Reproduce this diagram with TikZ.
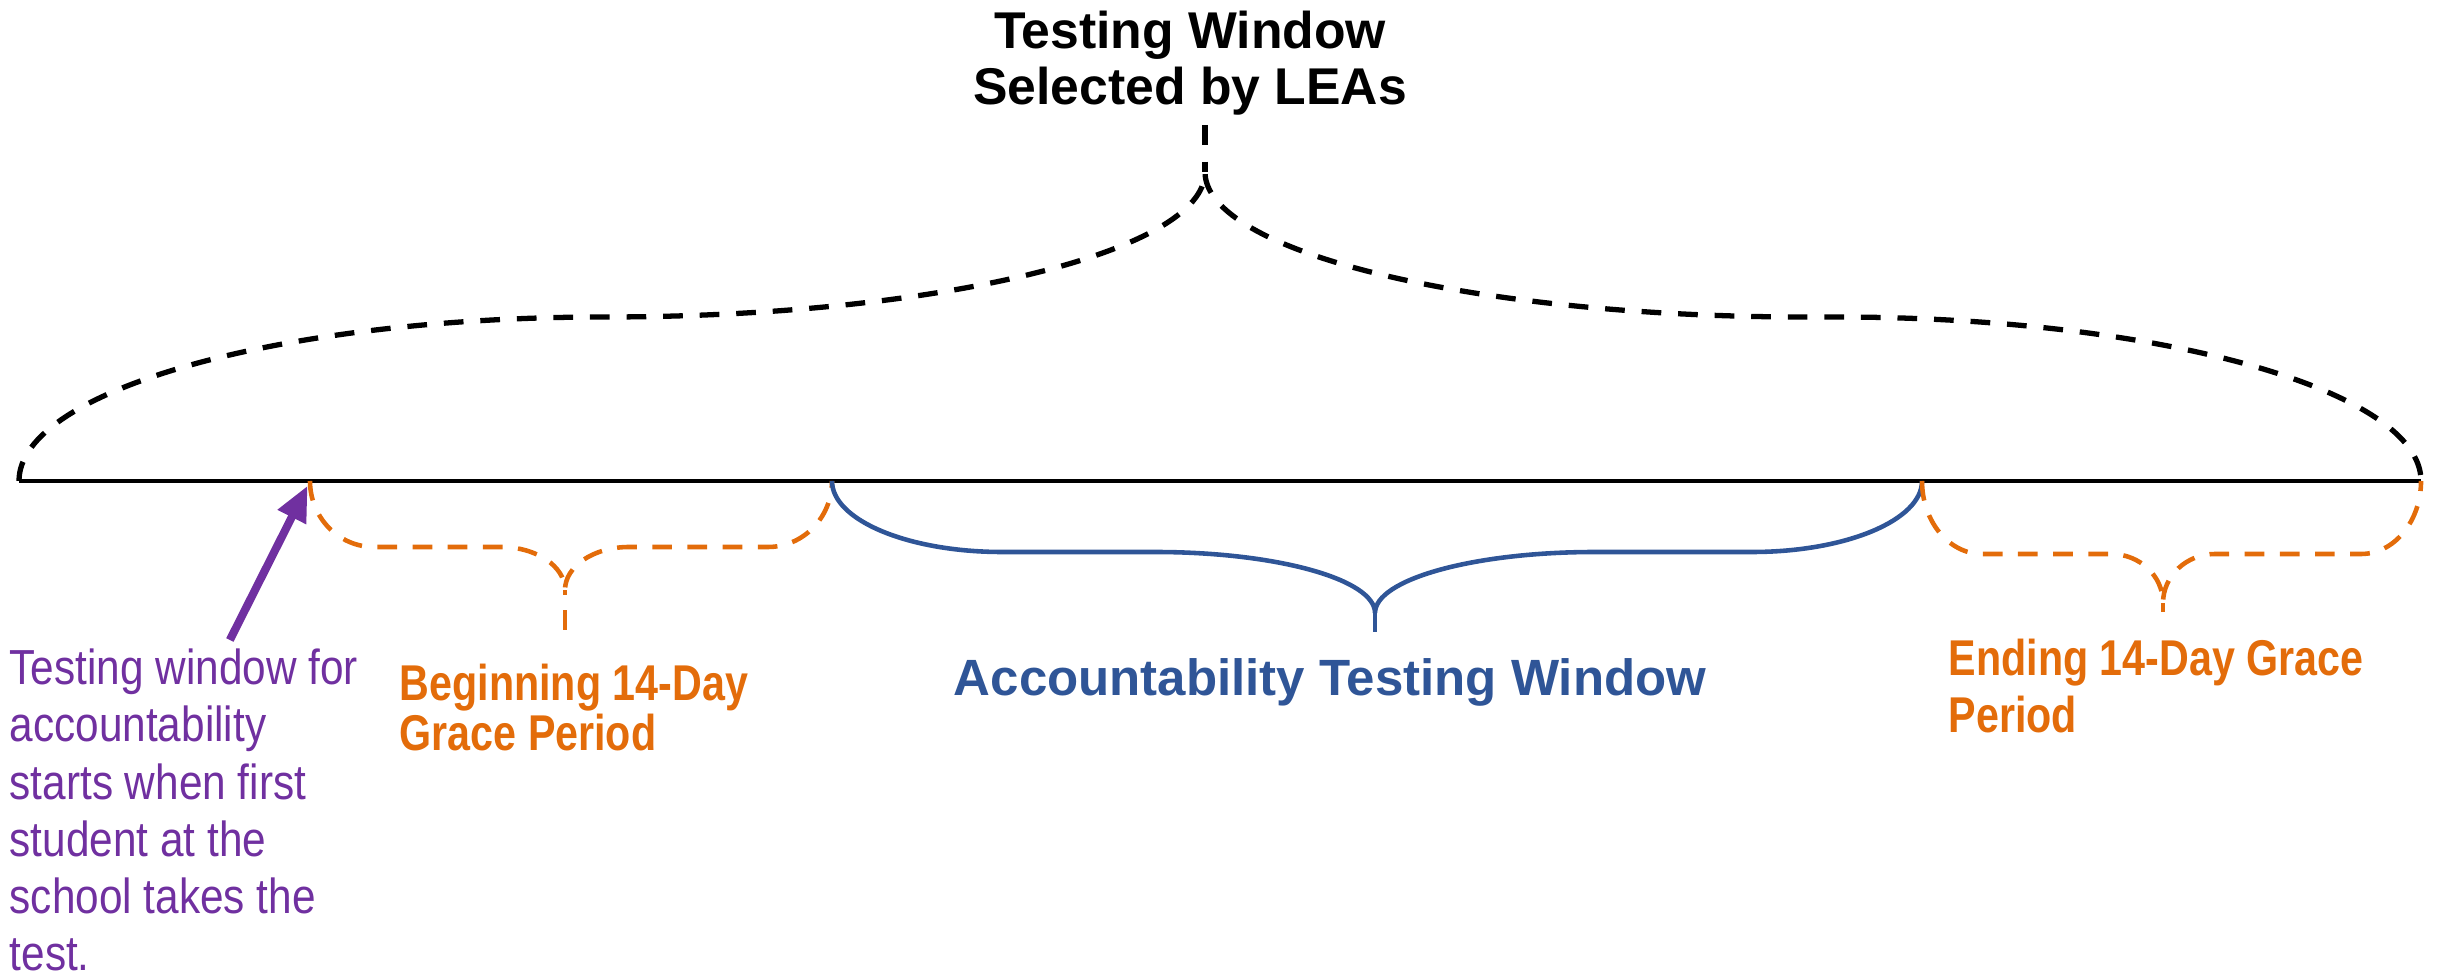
\documentclass[tikz,border=0pt]{standalone}
\usepackage{fontspec}
\setmainfont{Liberation Sans}
\newfontfamily\narrowfont[FakeStretch=0.82]{Liberation Sans}
\newfontfamily\notefont[FakeStretch=0.86]{Liberation Sans}
\usetikzlibrary{arrows.meta}
\definecolor{graceorange}{HTML}{E36C0A}
\definecolor{windowblue}{HTML}{2F5597}
\definecolor{notepurple}{HTML}{7030A0}
% brace hanging off the time line (y = 481):
% #1 style, #2 left x, #3 right x, #4 tip x, #5 flat y, #6 tip y, #7 tick end y,
% #8 outer arc radius, #9 inner arc radius
\newcommand{\spanbrace}[9]{%
  \draw[#1] (#2,481) .. controls (#2,{481+0.552*(#5-481)}) and ({#2+0.448*#8},#5) .. ({#2+#8},#5)
    -- ({#4-#9},#5) .. controls ({#4-0.448*#9},#5) and (#4,{#5+0.448*(#6-#5)}) .. (#4,#6)
    .. controls (#4,{#5+0.448*(#6-#5)}) and ({#4+0.448*#9},#5) .. ({#4+#9},#5)
    -- ({#3-#8},#5) .. controls ({#3-0.448*#8},#5) and (#3,{481+0.552*(#5-481)}) .. (#3,481);
  \draw[#1] (#4,#7) -- (#4,#6);}

\begin{document}
\begin{tikzpicture}[x=0.01cm,y=-0.01cm,
    timeline/.style={line width=1.3pt},
    lea brace/.style={line width=1.5pt, dash pattern=on 5.6pt off 4.8pt},
    grace brace/.style={graceorange, line width=1.3pt, dash pattern=on 5.6pt off 4.4pt},
    window brace/.style={windowblue, line width=1.3pt},
    start arrow/.style={notepurple, line width=2.3pt, -{Triangle[length=10pt,width=8.5pt]}, shorten >=1.5pt},
    title/.style={font=\bfseries\fontsize{14.7}{15.9}\selectfont, align=center, anchor=north, inner sep=0pt},
    grace label/.style={text=graceorange, font=\narrowfont\bfseries\fontsize{14.3}{#1}\selectfont, align=left, anchor=north west, inner sep=0pt},
    window label/.style={text=windowblue, font=\bfseries\fontsize{14.5}{16}\selectfont, anchor=north, inner sep=0pt},
    note/.style={text=notepurple, font=\notefont\fontsize{14}{16.3}\selectfont, align=left, anchor=north west, inner sep=0pt}]
  \useasboundingbox (0,0) rectangle (2440,980);

  % time line and its marks
  \coordinate (t0) at (19,481);
  \coordinate (t1) at (310,481);
  \coordinate (t2) at (832,481);
  \coordinate (t3) at (1922,481);
  \coordinate (t4) at (2421,481);
  \draw[timeline] (t0) -- (t4);

  % braces
  \spanbrace{lea brace}{19}{2421}{1205}{317}{172}{125}{585}{600}
  \spanbrace{grace brace}{310}{832}{565}{547}{590}{630}{64}{64}
  \spanbrace{window brace}{832}{1922}{1375}{552}{613}{632}{170}{220}
  \spanbrace{grace brace}{1922}{2421}{2163}{554}{603}{612}{60}{52}

  % labels
  \node[title] (lea) at (1190,10) {Testing Window\\Selected by LEAs};
  \node[grace label=14.2] (begin) at (399,663) {Beginning 14-Day\\Grace Period};
  \node[window label] (window) at (1330,658) {Accountability Testing Window};
  \node[grace label=16.2] (end) at (1948,638) {Ending 14-Day Grace\\Period};
  \node[note] (first) at (9,648) {Testing window for\\accountability\\starts when first\\student at the\\school takes the\\test.};

  \draw[start arrow] ([shift={(46,-8)}]first.north) -- (t1);
\end{tikzpicture}
\end{document}
